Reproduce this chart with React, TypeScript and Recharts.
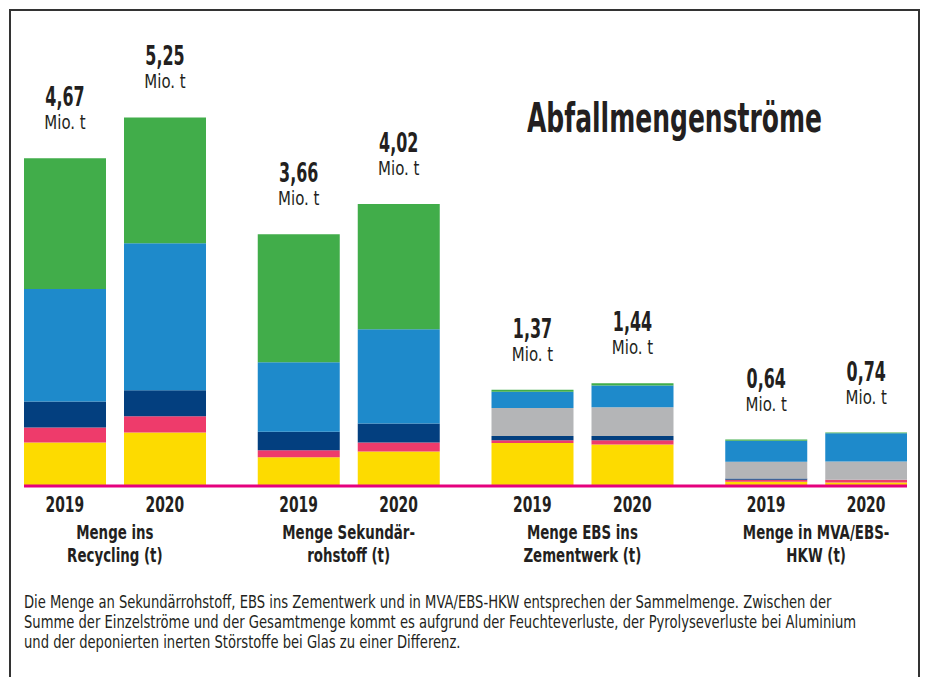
import { BarChart, Bar, XAxis, YAxis, LabelList } from "recharts";

const FONT = '"DejaVu Sans", sans-serif';
const INK = "#231f20";

// Gruppen (je zwei Zeilen) und Jahre
const groupLines = [
  ["Menge ins", "Recycling (t)"],
  ["Menge Sekundär-", "rohstoff (t)"],
  ["Menge EBS ins", "Zementwerk (t)"],
  ["Menge in MVA/EBS-", "HKW (t)"],
];
const years = ["2019", "2020"];

// Mio. t, je Gruppe [2019, 2020], von unten nach oben gestapelt
const gelb = [[0.62, 0.76], [0.41, 0.49], [0.61, 0.59], [0.06, 0.05]];
const rosa = [[0.21, 0.23], [0.1, 0.13], [0.04, 0.06], [0.03, 0.04]];
const dunkelblau = [[0.37, 0.37], [0.26, 0.27], [0.06, 0.06], [0.015, 0]];
const grau = [[0, 0], [0, 0], [0.4, 0.41], [0.24, 0.26]];
const blau = [[1.6, 2.09], [0.99, 1.34], [0.23, 0.31], [0.3, 0.4]];
const gruen = [[1.86, 1.79], [1.82, 1.78], [0.03, 0.03], [0.015, 0.01]];
const gesamt = [[4.67, 5.25], [3.66, 4.02], [1.37, 1.44], [0.64, 0.74]];

const series = [
  { key: "gelb", values: gelb, color: "#fddb00" },
  { key: "rosa", values: rosa, color: "#ee3b6b" },
  { key: "dunkelblau", values: dunkelblau, color: "#033f7f" },
  { key: "grau", values: grau, color: "#b4b5b7" },
  { key: "blau", values: blau, color: "#1e8acb" },
  { key: "gruen", values: gruen, color: "#41ad4a" },
];

const data = groupLines.map((lines, gi) => {
  const row: any = { group: lines.join(" ") };
  years.forEach((y, yi) => {
    series.forEach((s) => {
      row[`${s.key}_${y}`] = s.values[gi][yi];
    });
    row[`gesamt_${y}`] = gesamt[gi][yi];
  });
  return row;
});

const fmt = (v: number) => v.toFixed(2).replace(".", ",");

// no condensed font installed -> squeeze DejaVu horizontally
function CText({ x, y, s, size, bold, children }: any) {
  return (
    <text
      transform={`translate(${x} ${y}) scale(${s} 1)`}
      textAnchor="middle"
      fontFamily={FONT}
      fontSize={size}
      fontWeight={bold ? 700 : 400}
      fill={INK}
    >
      {children}
    </text>
  );
}

function GroupTick(props: any) {
  const { x, y, payload, index } = props;
  const lines = groupLines[index] ?? [payload.value];
  return (
    <g>
      <CText x={x - 50} y={y + 26} s={0.66} size={21} bold>{years[0]}</CText>
      <CText x={x + 50} y={y + 26} s={0.66} size={21} bold>{years[1]}</CText>
      <CText x={x} y={y + 53} s={0.705} size={19} bold>{lines[0]}</CText>
      <CText x={x} y={y + 76} s={0.705} size={19} bold>{lines[1]}</CText>
    </g>
  );
}

function TotalLabel(props: any) {
  const { x, y, width, value } = props;
  const cx = Number(x) + Number(width) / 2;
  return (
    <g>
      <CText x={cx} y={Number(y) - 52} s={0.59} size={27} bold>{fmt(Number(value))}</CText>
      <CText x={cx} y={Number(y) - 29} s={0.75} size={20}>Mio. t</CText>
    </g>
  );
}

export default function App() {
  return (
    <div
      style={{
        position: "absolute",
        left: 9,
        top: 9,
        width: 911,
        height: 690,
        border: "2px solid #333",
        boxSizing: "border-box",
        background: "#fff",
        fontFamily: FONT,
        color: INK,
        overflow: "hidden",
      }}
    >
      <div style={{ position: "absolute", left: 13, top: 0, width: 883, height: 565, overflow: "hidden" }}>
        <div style={{ marginLeft: -26 }}>
          <BarChart
            width={935}
            height={565}
            data={data}
            margin={{ top: 53, right: 0, bottom: 0, left: 0 }}
            barGap={18}
            barSize={82}
          >
            <YAxis hide domain={[0, 6]} />
            <XAxis
              dataKey="group"
              height={90}
              interval={0}
              tickLine={false}
              tickSize={0}
              tickMargin={0}
              axisLine={{ stroke: "#e5007d", strokeWidth: 3 }}
              tick={<GroupTick />}
            />
            {years.map((y) =>
              series.map((s, si) => (
                <Bar
                  key={`${s.key}_${y}`}
                  dataKey={`${s.key}_${y}`}
                  stackId={y}
                  fill={s.color}
                  isAnimationActive={false}
                >
                  {si === series.length - 1 && (
                    <LabelList dataKey={`gesamt_${y}`} content={<TotalLabel />} />
                  )}
                </Bar>
              ))
            )}
          </BarChart>
        </div>
      </div>
      <div
        style={{
          position: "absolute",
          left: 516,
          top: 87,
          fontSize: 41,
          lineHeight: "41px",
          fontWeight: 700,
          whiteSpace: "nowrap",
          transform: "scaleX(0.61)",
          transformOrigin: "left top",
        }}
      >
        Abfallmengenströme
      </div>
      <div
        style={{
          position: "absolute",
          left: 13,
          top: 581,
          fontSize: 18,
          lineHeight: "20px",
          whiteSpace: "nowrap",
          transform: "scaleX(0.73)",
          transformOrigin: "left top",
        }}
      >
        Die Menge an Sekundärrohstoff, EBS ins Zementwerk und in MVA/EBS-HKW entsprechen der Sammelmenge. Zwischen der
        <br />
        Summe der Einzelströme und der Gesamtmenge kommt es aufgrund der Feuchteverluste, der Pyrolyseverluste bei Aluminium
        <br />
        und der deponierten inerten Störstoffe bei Glas zu einer Differenz.
      </div>
    </div>
  );
}
